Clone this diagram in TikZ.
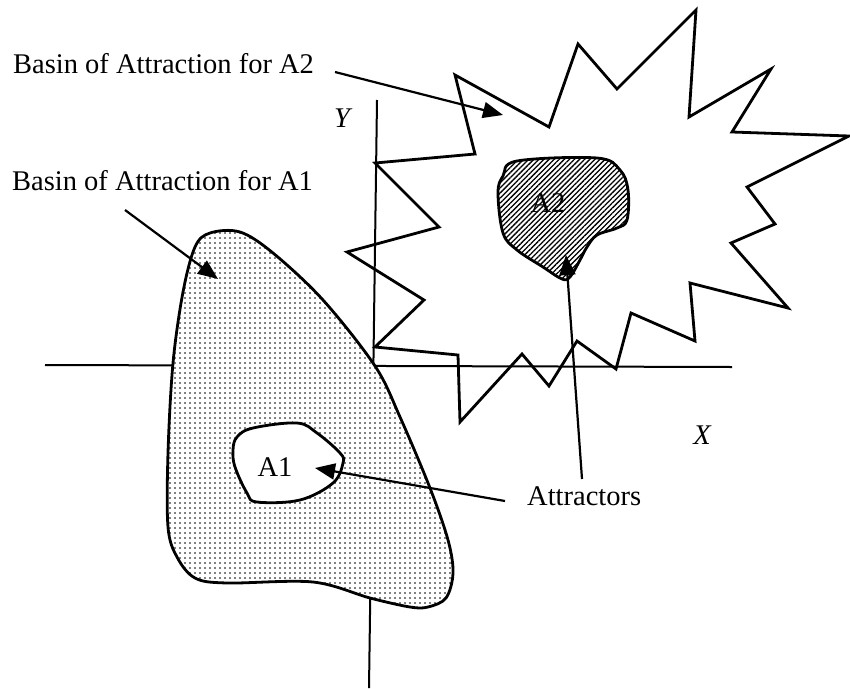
\documentclass[tikz,border=0pt]{standalone}
\usepackage{fontspec}
\setmainfont{Liberation Serif}
\usetikzlibrary{arrows.meta,patterns.meta}

\tikzset{
  axis/.style={line width=2pt},
  edge/.style={line width=2.8pt,line join=miter},
  pointer/.style={line width=2.2pt,-{Triangle[length=20pt,width=16pt]}},
  lbl/.style={inner sep=0pt,font=\fontsize{28.5}{32}\selectfont}
}

\begin{document}
\begin{tikzpicture}[x=1pt,y=-1pt]
\useasboundingbox (0,0) rectangle (850,688);
\draw[axis] (377,100) -- (369,688);
\draw[axis] (45,365) -- (732,367);
\draw[edge,preaction={fill=white},pattern={Dots[distance=5pt,radius=0.9pt]}]
  plot[smooth cycle,tension=0.55] coordinates {(210,233) (240,232) (273,253) (323,300) (375,366) (400,417) (430,488) (448,540) (453,573) (446,598) (428,607) (410,607) (370,598) (313,582) (227,583) (195,578) (177,557) (168,527) (168,453) (173,363) (183,292) (195,247)};
\draw[edge,fill=white]
  plot[smooth cycle,tension=0.6] coordinates {(237,437) (253,428) (297,423) (317,433) (340,453) (343,463) (333,483) (300,500) (257,502) (247,493) (235,467) (233,450)};
\draw[edge] (375,163) -- (475,154) -- (455,75) -- (549,127) -- (578,44) -- (617,89) -- (696,10) -- (689,117) -- (771,69) -- (732,132) -- (849,136) -- (747,187) -- (775,224) -- (731,243) -- (788,308) -- (690,283) -- (695,341) -- (631,313) -- (616,369) -- (577,341) -- (549,386) -- (522,354) -- (460,422) -- (458,355) -- (375,347) -- (424,300) -- (347,252) -- (439,227) -- cycle;
\draw[edge,preaction={fill=white},pattern={Lines[angle=45,distance=3.6pt,line width=1.3pt]}]
  plot[smooth cycle,tension=0.6] coordinates {(517,161) (597,158) (620,170) (628,190) (627,220) (617,228) (597,235) (587,247) (580,260) (570,277) (562,279) (543,267) (517,250) (503,233) (498,193) (503,176)};
\node[lbl] (atwo) at (548,203) {A2};
\node[lbl] (aone) at (275,467) {A1};
\node[lbl,anchor=base west] (basintwo) at (13,73) {Basin of Attraction for A2};
\node[lbl,anchor=base west] (basinone) at (12,190) {Basin of Attraction for A1};
\node[lbl,anchor=base west] (attr) at (527,505) {Attractors};
\node[lbl] (yname) at (342,118) {\itshape Y};
\node[lbl] (xname) at (702,435) {\itshape X};
\coordinate (fromtwo) at (335,72);
\coordinate (totwo) at (503,115);
\coordinate (fromone) at (125,210);
\coordinate (toone) at (218,279);
\coordinate (attrleft) at (505,501);
\coordinate (attrtop) at (582,479);
\coordinate (hitone) at (315,468);
\coordinate (hittwo) at (566,255);
\draw[pointer] (fromtwo) -- (totwo);
\draw[pointer] (fromone) -- (toone);
\draw[pointer] (attrleft) -- (hitone);
\draw[pointer] (attrtop) -- (hittwo);
\end{tikzpicture}
\end{document}
